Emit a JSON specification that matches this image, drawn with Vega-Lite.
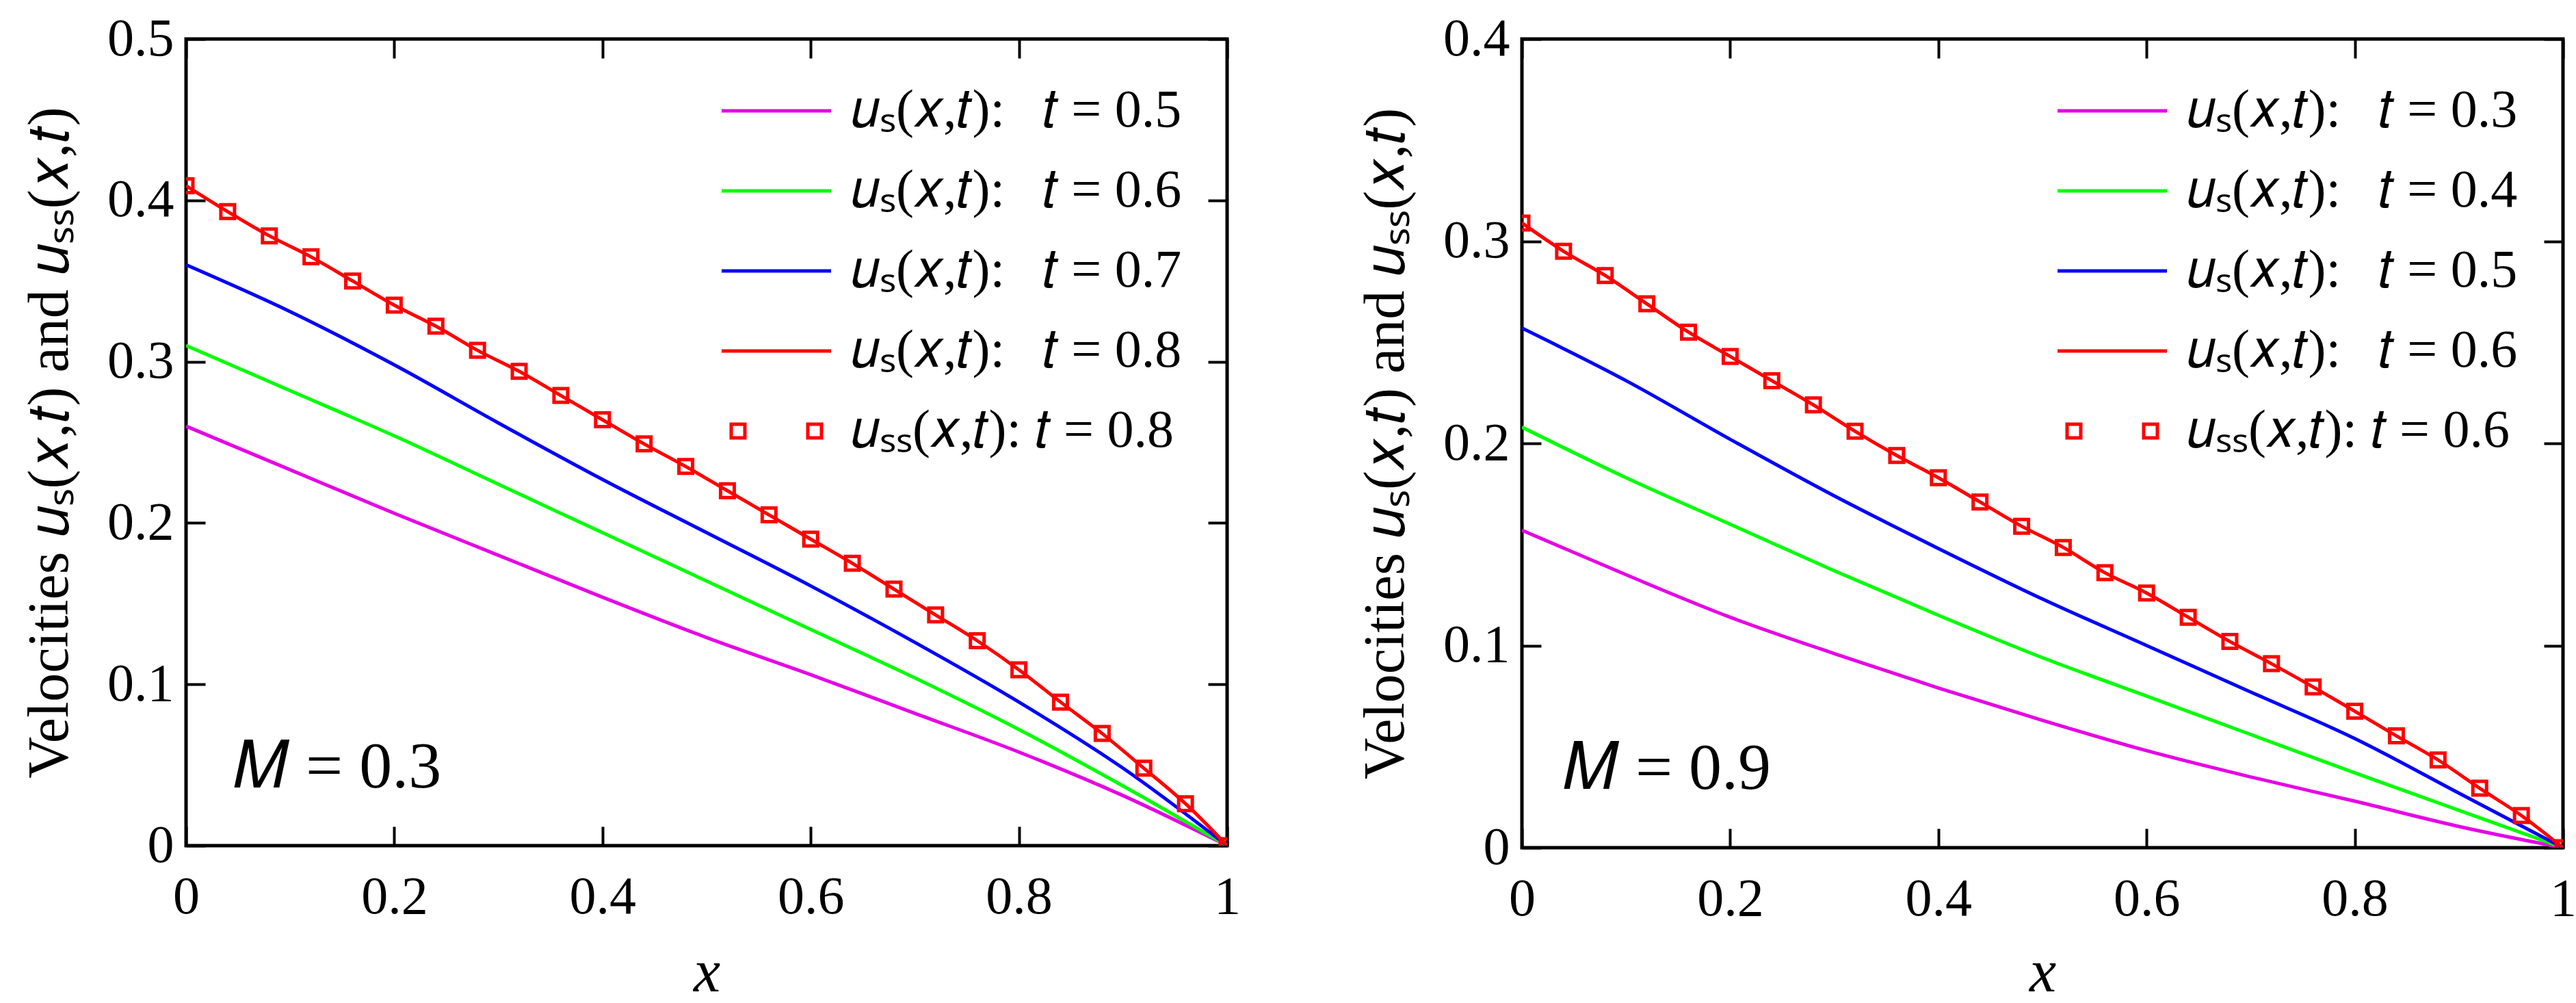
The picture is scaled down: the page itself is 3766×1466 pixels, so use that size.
{
  "$schema": "https://vega.github.io/schema/vega-lite/v6.json",
  "padding": {"left": 28, "top": 15, "right": 8, "bottom": 2},
  "spacing": 165,
  "config": {
    "font": "Liberation Serif",
    "view": {"stroke": "black", "strokeWidth": 5},
    "axis": {
      "grid": false, "domain": false,
      "tickColor": "black", "tickWidth": 4, "tickSize": -28,
      "labelFont": "Liberation Serif", "labelFontSize": 78, "labelColor": "black",
      "labelFlush": false, "labelOverlap": false,
      "titleFont": "Liberation Serif", "titleFontWeight": "normal", "titleColor": "black"
    },
    "legend": {"labelFont": "Liberation Serif"},
    "text": {"font": "Liberation Serif"}
  },
  "datasets": {
    "curvesL": [
      {"s": "0.5", "x": 0, "y": 0.26}, {"s": "0.5", "x": 0.1, "y": 0.233}, {"s": "0.5", "x": 0.2, "y": 0.206},
      {"s": "0.5", "x": 0.3, "y": 0.18}, {"s": "0.5", "x": 0.4, "y": 0.154}, {"s": "0.5", "x": 0.5, "y": 0.129},
      {"s": "0.5", "x": 0.6, "y": 0.106}, {"s": "0.5", "x": 0.7, "y": 0.082}, {"s": "0.5", "x": 0.8, "y": 0.058},
      {"s": "0.5", "x": 0.9, "y": 0.031}, {"s": "0.5", "x": 1, "y": 0},
      {"s": "0.6", "x": 0, "y": 0.31}, {"s": "0.6", "x": 0.1, "y": 0.282}, {"s": "0.6", "x": 0.2, "y": 0.254},
      {"s": "0.6", "x": 0.3, "y": 0.224}, {"s": "0.6", "x": 0.4, "y": 0.194}, {"s": "0.6", "x": 0.5, "y": 0.164},
      {"s": "0.6", "x": 0.6, "y": 0.134}, {"s": "0.6", "x": 0.7, "y": 0.104}, {"s": "0.6", "x": 0.8, "y": 0.072},
      {"s": "0.6", "x": 0.9, "y": 0.037}, {"s": "0.6", "x": 1, "y": 0},
      {"s": "0.7", "x": 0, "y": 0.36}, {"s": "0.7", "x": 0.1, "y": 0.331}, {"s": "0.7", "x": 0.2, "y": 0.298},
      {"s": "0.7", "x": 0.3, "y": 0.262}, {"s": "0.7", "x": 0.4, "y": 0.227}, {"s": "0.7", "x": 0.5, "y": 0.194},
      {"s": "0.7", "x": 0.6, "y": 0.161}, {"s": "0.7", "x": 0.7, "y": 0.126}, {"s": "0.7", "x": 0.8, "y": 0.089},
      {"s": "0.7", "x": 0.9, "y": 0.048}, {"s": "0.7", "x": 1, "y": 0},
      {"s": "0.8", "x": 0, "y": 0.409}, {"s": "0.8", "x": 0.04, "y": 0.393}, {"s": "0.8", "x": 0.08, "y": 0.378},
      {"s": "0.8", "x": 0.12, "y": 0.365}, {"s": "0.8", "x": 0.16, "y": 0.35}, {"s": "0.8", "x": 0.2, "y": 0.335},
      {"s": "0.8", "x": 0.24, "y": 0.322}, {"s": "0.8", "x": 0.28, "y": 0.307}, {"s": "0.8", "x": 0.32, "y": 0.294},
      {"s": "0.8", "x": 0.36, "y": 0.279}, {"s": "0.8", "x": 0.4, "y": 0.264}, {"s": "0.8", "x": 0.44, "y": 0.249},
      {"s": "0.8", "x": 0.48, "y": 0.235}, {"s": "0.8", "x": 0.52, "y": 0.22}, {"s": "0.8", "x": 0.56, "y": 0.205},
      {"s": "0.8", "x": 0.6, "y": 0.19}, {"s": "0.8", "x": 0.64, "y": 0.175}, {"s": "0.8", "x": 0.68, "y": 0.159},
      {"s": "0.8", "x": 0.72, "y": 0.143}, {"s": "0.8", "x": 0.76, "y": 0.127}, {"s": "0.8", "x": 0.8, "y": 0.109},
      {"s": "0.8", "x": 0.84, "y": 0.089}, {"s": "0.8", "x": 0.88, "y": 0.0695}, {"s": "0.8", "x": 0.92, "y": 0.048},
      {"s": "0.8", "x": 0.96, "y": 0.026}, {"s": "0.8", "x": 1, "y": 0}
    ],
    "squaresL": [
      {"s": "ss0.8", "x": 0, "y": 0.409}, {"s": "ss0.8", "x": 0.04, "y": 0.393}, {"s": "ss0.8", "x": 0.08, "y": 0.378},
      {"s": "ss0.8", "x": 0.12, "y": 0.365}, {"s": "ss0.8", "x": 0.16, "y": 0.35}, {"s": "ss0.8", "x": 0.2, "y": 0.335},
      {"s": "ss0.8", "x": 0.24, "y": 0.322}, {"s": "ss0.8", "x": 0.28, "y": 0.307}, {"s": "ss0.8", "x": 0.32, "y": 0.294},
      {"s": "ss0.8", "x": 0.36, "y": 0.279}, {"s": "ss0.8", "x": 0.4, "y": 0.264}, {"s": "ss0.8", "x": 0.44, "y": 0.249},
      {"s": "ss0.8", "x": 0.48, "y": 0.235}, {"s": "ss0.8", "x": 0.52, "y": 0.22}, {"s": "ss0.8", "x": 0.56, "y": 0.205},
      {"s": "ss0.8", "x": 0.6, "y": 0.19}, {"s": "ss0.8", "x": 0.64, "y": 0.175}, {"s": "ss0.8", "x": 0.68, "y": 0.159},
      {"s": "ss0.8", "x": 0.72, "y": 0.143}, {"s": "ss0.8", "x": 0.76, "y": 0.127}, {"s": "ss0.8", "x": 0.8, "y": 0.109},
      {"s": "ss0.8", "x": 0.84, "y": 0.089}, {"s": "ss0.8", "x": 0.88, "y": 0.0695}, {"s": "ss0.8", "x": 0.92, "y": 0.048},
      {"s": "ss0.8", "x": 0.96, "y": 0.026}, {"s": "ss0.8", "x": 1, "y": 0}
    ],
    "curvesR": [
      {"s": "0.3", "x": 0, "y": 0.157}, {"s": "0.3", "x": 0.1, "y": 0.135}, {"s": "0.3", "x": 0.2, "y": 0.114},
      {"s": "0.3", "x": 0.3, "y": 0.096}, {"s": "0.3", "x": 0.4, "y": 0.079}, {"s": "0.3", "x": 0.5, "y": 0.063},
      {"s": "0.3", "x": 0.6, "y": 0.048}, {"s": "0.3", "x": 0.7, "y": 0.035}, {"s": "0.3", "x": 0.8, "y": 0.023},
      {"s": "0.3", "x": 0.9, "y": 0.0105}, {"s": "0.3", "x": 1, "y": 0},
      {"s": "0.4", "x": 0, "y": 0.208}, {"s": "0.4", "x": 0.1, "y": 0.183}, {"s": "0.4", "x": 0.2, "y": 0.16},
      {"s": "0.4", "x": 0.3, "y": 0.137}, {"s": "0.4", "x": 0.4, "y": 0.115}, {"s": "0.4", "x": 0.5, "y": 0.094},
      {"s": "0.4", "x": 0.6, "y": 0.075}, {"s": "0.4", "x": 0.7, "y": 0.056}, {"s": "0.4", "x": 0.8, "y": 0.037},
      {"s": "0.4", "x": 0.9, "y": 0.0185}, {"s": "0.4", "x": 1, "y": 0},
      {"s": "0.5", "x": 0, "y": 0.257}, {"s": "0.5", "x": 0.1, "y": 0.231}, {"s": "0.5", "x": 0.2, "y": 0.202},
      {"s": "0.5", "x": 0.3, "y": 0.174}, {"s": "0.5", "x": 0.4, "y": 0.148}, {"s": "0.5", "x": 0.5, "y": 0.123},
      {"s": "0.5", "x": 0.6, "y": 0.1}, {"s": "0.5", "x": 0.7, "y": 0.077}, {"s": "0.5", "x": 0.8, "y": 0.054},
      {"s": "0.5", "x": 0.9, "y": 0.027}, {"s": "0.5", "x": 1, "y": 0},
      {"s": "0.6", "x": 0, "y": 0.309}, {"s": "0.6", "x": 0.04, "y": 0.295}, {"s": "0.6", "x": 0.08, "y": 0.283},
      {"s": "0.6", "x": 0.12, "y": 0.269}, {"s": "0.6", "x": 0.16, "y": 0.255}, {"s": "0.6", "x": 0.2, "y": 0.243},
      {"s": "0.6", "x": 0.24, "y": 0.231}, {"s": "0.6", "x": 0.28, "y": 0.219}, {"s": "0.6", "x": 0.32, "y": 0.206},
      {"s": "0.6", "x": 0.36, "y": 0.194}, {"s": "0.6", "x": 0.4, "y": 0.183}, {"s": "0.6", "x": 0.44, "y": 0.171},
      {"s": "0.6", "x": 0.48, "y": 0.159}, {"s": "0.6", "x": 0.52, "y": 0.1485}, {"s": "0.6", "x": 0.56, "y": 0.136},
      {"s": "0.6", "x": 0.6, "y": 0.126}, {"s": "0.6", "x": 0.64, "y": 0.114}, {"s": "0.6", "x": 0.68, "y": 0.102},
      {"s": "0.6", "x": 0.72, "y": 0.091}, {"s": "0.6", "x": 0.76, "y": 0.0795}, {"s": "0.6", "x": 0.8, "y": 0.0675},
      {"s": "0.6", "x": 0.84, "y": 0.0553}, {"s": "0.6", "x": 0.88, "y": 0.0434}, {"s": "0.6", "x": 0.92, "y": 0.0294},
      {"s": "0.6", "x": 0.96, "y": 0.0159}, {"s": "0.6", "x": 1, "y": 0}
    ],
    "squaresR": [
      {"s": "ss0.6", "x": 0, "y": 0.309}, {"s": "ss0.6", "x": 0.04, "y": 0.295}, {"s": "ss0.6", "x": 0.08, "y": 0.283},
      {"s": "ss0.6", "x": 0.12, "y": 0.269}, {"s": "ss0.6", "x": 0.16, "y": 0.255}, {"s": "ss0.6", "x": 0.2, "y": 0.243},
      {"s": "ss0.6", "x": 0.24, "y": 0.231}, {"s": "ss0.6", "x": 0.28, "y": 0.219}, {"s": "ss0.6", "x": 0.32, "y": 0.206},
      {"s": "ss0.6", "x": 0.36, "y": 0.194}, {"s": "ss0.6", "x": 0.4, "y": 0.183}, {"s": "ss0.6", "x": 0.44, "y": 0.171},
      {"s": "ss0.6", "x": 0.48, "y": 0.159}, {"s": "ss0.6", "x": 0.52, "y": 0.1485}, {"s": "ss0.6", "x": 0.56, "y": 0.136},
      {"s": "ss0.6", "x": 0.6, "y": 0.126}, {"s": "ss0.6", "x": 0.64, "y": 0.114}, {"s": "ss0.6", "x": 0.68, "y": 0.102},
      {"s": "ss0.6", "x": 0.72, "y": 0.091}, {"s": "ss0.6", "x": 0.76, "y": 0.0795}, {"s": "ss0.6", "x": 0.8, "y": 0.0675},
      {"s": "ss0.6", "x": 0.84, "y": 0.0553}, {"s": "ss0.6", "x": 0.88, "y": 0.0434}, {"s": "ss0.6", "x": 0.92, "y": 0.0294},
      {"s": "ss0.6", "x": 0.96, "y": 0.0159}, {"s": "ss0.6", "x": 1, "y": 0}
    ]
  },
  "resolve": {"scale": {"color": "independent"}, "legend": {"color": "independent"}},
  "hconcat": [
    {
      "width": 1522,
      "height": 1179,
      "resolve": {"axis": {"x": "independent", "y": "independent"}},
      "layer": [
        {
          "data": {"name": "curvesL"},
          "mark": {"type": "line", "strokeWidth": 5, "interpolate": "monotone", "clip": true},
          "encoding": {
            "x": {
              "field": "x", "type": "quantitative",
              "scale": {"domain": [0, 1], "nice": false},
              "axis": {"orient": "bottom", "values": [0, 0.2, 0.4, 0.6, 0.8, 1], "format": "~g",
                       "title": "x", "titleFontStyle": "italic", "titleFontSize": 88,
                       "labelPadding": 64, "labelDx": 18, "titlePadding": 28}
            },
            "y": {
              "field": "y", "type": "quantitative",
              "scale": {"domain": [0, 0.5], "nice": false},
              "axis": {"orient": "left", "values": [0, 0.1, 0.2, 0.3, 0.4, 0.5], "format": "~g",
                       "title": "Velocities 𝑢ₛ(𝑥,𝑡) and 𝑢ₛₛ(𝑥,𝑡)", "titleFontSize": 84,
                       "labelPadding": 46, "labelDy": 7, "titlePadding": 40}
            },
            "color": {
              "field": "s", "type": "nominal",
              "scale": {"domain": ["0.5", "0.6", "0.7", "0.8", "ss0.8"],
                        "range": ["#e600e6", "#00ff00", "#0000ff", "#ff0000", "#ff0000"]},
              "legend": {
                "title": null, "orient": "top-right", "offset": 66, "padding": 0,
                "labelFontSize": 78, "labelColor": "black", "labelLimit": 0,
                "symbolType": "M-4,0H4", "symbolSize": 1600, "symbolStrokeWidth": 5,
                "labelOffset": 70, "rowPadding": 39,
                "labelExpr": "datum.index == 4 ? '𝑢ₛₛ(𝑥,𝑡): 𝑡 = ' + replace(datum.label, 'ss', '') : '𝑢ₛ(𝑥,𝑡):\u2002\u2009𝑡 = ' + datum.label",
                "encode": {"symbols": {"update": {
                  "shape": {"signal": "datum.index == 4 ? 'M-3.3,-0.5H-2.3V0.5H-3.3Z M2.3,-0.5H3.3V0.5H2.3Z' : 'M-4,0H4'"},
                  "fill": {"value": "transparent"}
                }}}
              }
            }
          }
        },
        {
          "data": {"name": "squaresL"},
          "mark": {"type": "point", "shape": "square", "filled": false, "size": 400, "strokeWidth": 5, "opacity": 1, "clip": true},
          "encoding": {
            "x": {"field": "x", "type": "quantitative",
                  "axis": {"orient": "top", "values": [0, 0.2, 0.4, 0.6, 0.8, 1], "labels": false, "title": null}},
            "y": {"field": "y", "type": "quantitative",
                  "axis": {"orient": "right", "values": [0, 0.1, 0.2, 0.3, 0.4, 0.5], "labels": false, "title": null}},
            "color": {"field": "s", "type": "nominal"}
          }
        },
        {
          "data": {"values": [{"label": "𝑀 = 0.3"}]},
          "mark": {"type": "text", "align": "left", "baseline": "alphabetic", "fontSize": 96, "color": "black"},
          "encoding": {
            "x": {"datum": 0.046, "type": "quantitative", "axis": null},
            "y": {"datum": 0.036, "type": "quantitative", "axis": null},
            "text": {"field": "label"}
          }
        }
      ]
    },
    {
      "width": 1522,
      "height": 1182,
      "resolve": {"axis": {"x": "independent", "y": "independent"}},
      "layer": [
        {
          "data": {"name": "curvesR"},
          "mark": {"type": "line", "strokeWidth": 5, "interpolate": "monotone", "clip": true},
          "encoding": {
            "x": {
              "field": "x", "type": "quantitative",
              "scale": {"domain": [0, 1], "nice": false},
              "axis": {"orient": "bottom", "values": [0, 0.2, 0.4, 0.6, 0.8, 1], "format": "~g",
                       "title": "x", "titleFontStyle": "italic", "titleFontSize": 88,
                       "labelPadding": 64, "labelDx": 18, "titlePadding": 25}
            },
            "y": {
              "field": "y", "type": "quantitative",
              "scale": {"domain": [0, 0.4], "nice": false},
              "axis": {"orient": "left", "values": [0, 0.1, 0.2, 0.3, 0.4], "format": "~g",
                       "title": "Velocities 𝑢ₛ(𝑥,𝑡) and 𝑢ₛₛ(𝑥,𝑡)", "titleFontSize": 84,
                       "labelPadding": 46, "labelDy": 7, "titlePadding": 40}
            },
            "color": {
              "field": "s", "type": "nominal",
              "scale": {"domain": ["0.3", "0.4", "0.5", "0.6", "ss0.6"],
                        "range": ["#e600e6", "#00ff00", "#0000ff", "#ff0000", "#ff0000"]},
              "legend": {
                "title": null, "orient": "top-right", "offset": 66, "padding": 0,
                "labelFontSize": 78, "labelColor": "black", "labelLimit": 0,
                "symbolType": "M-4,0H4", "symbolSize": 1600, "symbolStrokeWidth": 5,
                "labelOffset": 70, "rowPadding": 39,
                "labelExpr": "datum.index == 4 ? '𝑢ₛₛ(𝑥,𝑡): 𝑡 = ' + replace(datum.label, 'ss', '') : '𝑢ₛ(𝑥,𝑡):\u2002\u2009𝑡 = ' + datum.label",
                "encode": {"symbols": {"update": {
                  "shape": {"signal": "datum.index == 4 ? 'M-3.3,-0.5H-2.3V0.5H-3.3Z M2.3,-0.5H3.3V0.5H2.3Z' : 'M-4,0H4'"},
                  "fill": {"value": "transparent"}
                }}}
              }
            }
          }
        },
        {
          "data": {"name": "squaresR"},
          "mark": {"type": "point", "shape": "square", "filled": false, "size": 400, "strokeWidth": 5, "opacity": 1, "clip": true},
          "encoding": {
            "x": {"field": "x", "type": "quantitative",
                  "axis": {"orient": "top", "values": [0, 0.2, 0.4, 0.6, 0.8, 1], "labels": false, "title": null}},
            "y": {"field": "y", "type": "quantitative",
                  "axis": {"orient": "right", "values": [0, 0.1, 0.2, 0.3, 0.4], "labels": false, "title": null}},
            "color": {"field": "s", "type": "nominal"}
          }
        },
        {
          "data": {"values": [{"label": "𝑀 = 0.9"}]},
          "mark": {"type": "text", "align": "left", "baseline": "alphabetic", "fontSize": 96, "color": "black"},
          "encoding": {
            "x": {"datum": 0.04, "type": "quantitative", "axis": null},
            "y": {"datum": 0.029, "type": "quantitative", "axis": null},
            "text": {"field": "label"}
          }
        }
      ]
    }
  ]
}
